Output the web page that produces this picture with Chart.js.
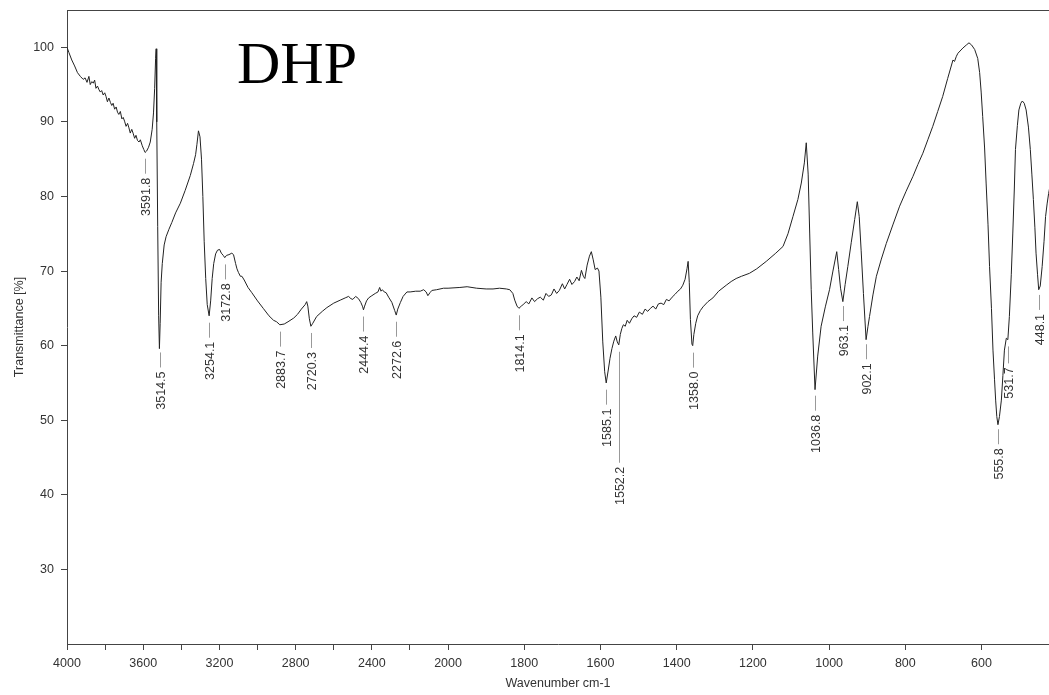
<!DOCTYPE html>
<html lang="en">

<head>
    <meta charset="UTF-8">
    <title>DHP IR spectrum</title>
    <script src="https://cdn.jsdelivr.net/npm/chart.js"></script>
    <style>
        html, body { margin: 0; padding: 0; background: #fff; }
        #wrap { width: 1049px; height: 695px; }
    </style>
</head>

<body>
    <div id="wrap">
        <canvas id="irChart" width="1049" height="695"></canvas>
    </div>

    <script>
        // spectrum: wavenumber (cm-1) and transmittance (%)
        const wavenumbers = [
            4000, 3990, 3975, 3960, 3945, 3930, 3915, 3905, 3895, 3885,
            3878, 3870, 3862, 3855, 3848, 3840, 3832, 3825, 3818, 3810,
            3802, 3795, 3788, 3780, 3772, 3765, 3758, 3750, 3742, 3735,
            3728, 3720, 3712, 3705, 3698, 3690, 3682, 3675, 3668, 3660,
            3652, 3645, 3638, 3630, 3622, 3615, 3605, 3597, 3590, 3582,
            3572, 3563, 3553, 3546, 3540, 3535, 3532, 3529, 3524, 3519,
            3515, 3511, 3506, 3500, 3490, 3480, 3465, 3450, 3430, 3405,
            3380, 3353, 3336, 3325, 3318, 3310, 3302, 3294, 3287, 3280,
            3272, 3264, 3254, 3246, 3238, 3230, 3220, 3210, 3199, 3190,
            3180, 3172, 3163, 3150, 3135, 3126, 3115, 3108, 3100, 3090,
            3082, 3070, 3050, 3030, 3000, 2970, 2940, 2916, 2900, 2883,
            2860, 2840, 2810, 2790, 2770, 2750, 2742, 2736, 2728, 2720,
            2710, 2690, 2660, 2636, 2600, 2566, 2540, 2522, 2510, 2500,
            2485, 2470, 2458, 2448, 2444, 2438, 2428, 2417, 2400, 2382,
            2368, 2359, 2352, 2345, 2335, 2325, 2312, 2295, 2280, 2272,
            2264, 2250, 2236, 2216, 2199, 2170, 2146, 2128, 2115, 2106,
            2095, 2085, 2060, 2024, 2000, 1969, 1950, 1925, 1900, 1882,
            1865, 1847, 1838, 1830, 1825, 1819, 1814, 1808, 1803, 1795,
            1788, 1780, 1773, 1765, 1758, 1750, 1743, 1736, 1729, 1722,
            1715, 1708, 1700, 1694, 1688, 1681, 1675, 1668, 1662, 1656,
            1650, 1645, 1641, 1635, 1629, 1624, 1619, 1614, 1608, 1604,
            1599, 1594, 1589, 1585, 1580, 1575, 1570, 1565, 1560, 1556,
            1552, 1548, 1544, 1540, 1535, 1530, 1524, 1518, 1512, 1505,
            1498, 1490, 1483, 1476, 1469, 1462, 1455, 1448, 1441, 1434,
            1427, 1420, 1412, 1404, 1397, 1390, 1384, 1378, 1373, 1370,
            1367, 1364, 1360, 1358, 1355, 1350, 1345, 1338, 1331, 1318,
            1305, 1290, 1270, 1257, 1244, 1230, 1209, 1190, 1165, 1140,
            1121, 1108, 1095, 1082, 1073, 1065, 1060, 1055, 1051, 1047,
            1043, 1037, 1030, 1021, 1010, 999, 990, 980, 975, 970,
            964, 958, 951, 942, 933, 926, 921, 916, 910, 903,
            898, 894, 885, 876, 863, 850, 832, 815, 798, 780,
            767, 754, 741, 728, 715, 702, 689, 675, 671, 666,
            662, 649, 640, 633, 626, 618, 610, 605, 601, 597,
            592, 588, 583, 579, 574, 570, 566, 563, 560, 557,
            553, 548, 544, 540, 535, 531, 527, 522, 518, 514,
            511, 506, 502, 497, 493, 488, 483, 477, 472, 468,
            464, 460, 457, 453, 450, 446, 441, 436, 432, 428,
            424, 420
        ];
        const transmittance = [
            100.0, 99.3, 98.3, 97.5, 96.6, 96.1, 95.7, 95.9, 95.3, 96.1,
            95.0, 95.4, 95.2, 95.6, 94.5, 94.8, 94.3, 94.0, 94.2, 93.6,
            93.9, 93.4, 92.7, 93.2, 92.6, 92.2, 92.5, 91.7, 92.0, 91.3,
            91.0, 91.4, 90.4, 90.6, 90.1, 89.4, 89.8, 89.2, 88.5, 89.0,
            88.4, 87.8, 88.2, 87.5, 87.3, 87.6, 86.8, 86.3, 85.9, 86.1,
            86.6, 87.3, 89.0, 91.2, 94.5, 98.5, 99.8, 90.0, 76.0, 64.0,
            59.6, 63.0, 68.5, 71.0, 73.5, 74.6, 75.6, 76.5, 77.8, 79.1,
            80.8, 82.8, 84.4, 85.6, 87.0, 88.8, 88.0, 85.0, 80.0, 74.0,
            69.0, 65.5, 64.0, 66.0, 69.0, 71.0, 72.3, 72.8, 72.9, 72.4,
            72.1, 71.8, 72.1, 72.2, 72.4, 72.2, 71.0, 70.3, 69.8, 69.3,
            69.3, 68.8, 67.8, 67.1, 66.0, 65.0, 64.0, 63.4, 63.2, 62.8,
            62.9, 63.2, 63.7, 64.2, 64.9, 65.5, 65.9, 65.3, 63.6, 62.6,
            63.0, 63.9, 64.6, 65.1, 65.7, 66.1, 66.4, 66.6, 66.3, 66.2,
            66.6, 66.3, 65.8, 65.2, 64.8, 65.3, 66.0, 66.4, 66.7, 67.0,
            67.2, 67.8, 67.3, 67.5, 67.2, 67.1, 66.5, 65.8, 64.7, 64.1,
            64.9, 65.8, 66.6, 67.2, 67.2, 67.3, 67.3, 67.5, 67.2, 66.7,
            67.1, 67.4, 67.5, 67.7, 67.7, 67.8, 67.9, 67.7, 67.6, 67.6,
            67.7, 67.6, 67.5, 67.0, 66.1, 65.3, 65.0, 65.3, 65.5, 65.9,
            65.6, 66.4, 65.9, 66.3, 66.5, 66.1, 67.0, 66.6, 66.8, 67.6,
            67.0, 67.4, 68.3, 67.6, 68.2, 68.9, 68.2, 68.6, 69.2, 68.7,
            70.1, 69.3, 69.0, 70.8, 72.0, 72.6, 71.5, 70.2, 70.4, 70.0,
            66.5, 60.5, 56.5, 55.0, 56.6, 58.3, 59.6, 60.6, 61.3, 60.5,
            60.1, 61.5, 62.3, 62.8, 62.6, 63.4, 63.0, 63.6, 64.0, 63.8,
            64.5, 64.2, 64.9, 64.6, 65.0, 65.3, 64.9, 65.6, 65.7, 65.5,
            66.2, 66.0, 66.5, 66.9, 67.3, 67.6, 68.1, 68.9, 70.3, 71.3,
            68.5, 63.5, 60.2, 60.0, 61.5, 63.0, 64.0, 64.7, 65.2, 65.9,
            66.4, 67.3, 68.1, 68.6, 69.0, 69.3, 69.7, 70.3, 71.3, 72.4,
            73.3, 75.0, 77.3, 79.6, 81.8, 84.5, 87.2, 83.0, 75.1, 67.5,
            61.7, 54.1, 58.6, 62.6, 65.2, 67.5, 70.0, 72.6, 70.2, 67.7,
            65.9, 68.2, 70.6, 73.8, 76.9, 79.3, 77.3, 72.8, 67.0, 60.8,
            62.6, 63.9, 66.8, 69.3, 71.6, 73.7, 76.3, 78.7, 80.7, 82.7,
            84.3, 85.8, 87.6, 89.4, 91.4, 93.4, 95.8, 98.3, 98.1, 98.8,
            99.2, 99.9, 100.3, 100.6, 100.3, 99.7, 98.5, 96.6, 94.0, 90.7,
            86.5, 81.8, 76.2, 70.6, 65.0, 59.4, 55.5, 52.7, 50.5, 49.4,
            50.5, 52.7, 56.0, 59.4, 61.0, 60.8, 63.9, 69.5, 75.1, 81.0,
            86.3, 89.5, 91.6, 92.5, 92.8, 92.5, 91.6, 89.3, 86.3, 83.0,
            79.6, 75.8, 72.4, 69.5, 67.5, 68.0, 70.6, 74.0, 77.3, 79.0,
            80.4, 81.5
        ];

        // picked peaks (cm-1)
        const peakWavenumbers = [3591.8, 3514.5, 3254.1, 3172.8, 2883.7, 2720.3, 2444.4, 2272.6,
            1814.1, 1585.1, 1552.2, 1358.0, 1036.8, 963.1, 902.1, 555.8, 531.7, 448.1];
        const peakLabels = peakWavenumbers.map(p => p.toFixed(1));

        // axis ticks
        const xTickValues = [4000, 3800, 3600, 3400, 3200, 3000, 2800, 2600, 2400, 2200, 2000,
            1800, 1600, 1400, 1200, 1000, 800, 600];
        const xTickLabels = ['4000', '3600', '3200', '2800', '2400', '2000',
            '1800', '1600', '1400', '1200', '1000', '800', '600'];
        const yTickValues = [30, 40, 50, 60, 70, 80, 90, 100];

        // layout only: extra lead-line length for labels pushed down (px)
        const labelDrop = { '1552.2': 96, '531.7': 2 };

        // x axis is compressed 2:1 above 2000 cm-1, so map wavenumber -> axis units
        function toAxis(wn) {
            return wn >= 2000 ? (4000 - wn) / 2 : 1000 + (2000 - wn);
        }
        function fromAxis(u) {
            return u <= 1000 ? 4000 - 2 * u : 2000 - (u - 1000);
        }
        // transmittance of the curve at a wavenumber (linear between read points)
        function valueAt(wn) {
            for (let i = 1; i < wavenumbers.length; i++) {
                if (wavenumbers[i] <= wn) {
                    const w0 = wavenumbers[i - 1], w1 = wavenumbers[i];
                    const t = (w0 - wn) / (w0 - w1);
                    return transmittance[i - 1] + t * (transmittance[i] - transmittance[i - 1]);
                }
            }
            return transmittance[transmittance.length - 1];
        }

        const points = wavenumbers.map((w, i) => ({ x: toAxis(w), y: transmittance[i] }));

        const sansFont = '"Liberation Sans", Arial, sans-serif';

        // peak markers, title and top frame line
        const decorations = {
            id: 'decorations',
            afterDatasetsDraw(chart) {
                const ctx = chart.ctx;
                const xs = chart.scales.x;
                const ys = chart.scales.y;
                const area = chart.chartArea;

                ctx.save();
                ctx.strokeStyle = '#444';
                ctx.lineWidth = 1;
                ctx.beginPath();
                ctx.moveTo(area.left, area.top + 0.5);
                ctx.lineTo(area.right, area.top + 0.5);
                ctx.stroke();

                ctx.font = '12.5px ' + sansFont;
                ctx.fillStyle = '#333';
                ctx.strokeStyle = '#999';
                peakWavenumbers.forEach((wn, i) => {
                    const px = Math.round(xs.getPixelForValue(toAxis(wn))) + 0.5;
                    const py = ys.getPixelForValue(valueAt(wn));
                    const y1 = py + 7;
                    const y2 = y1 + 15 + (labelDrop[peakLabels[i]] || 0);
                    ctx.beginPath();
                    ctx.moveTo(px, y1);
                    ctx.lineTo(px, y2);
                    ctx.stroke();

                    ctx.save();
                    ctx.translate(px + 1, y2 + 4);
                    ctx.rotate(-Math.PI / 2);
                    ctx.textAlign = 'right';
                    ctx.textBaseline = 'middle';
                    ctx.fillText(peakLabels[i], 0, 0);
                    ctx.restore();
                });

                ctx.font = '60px "Liberation Serif", "Times New Roman", serif';
                ctx.fillStyle = '#000';
                ctx.textAlign = 'left';
                ctx.textBaseline = 'alphabetic';
                ctx.fillText('DHP', 237, 83);
                ctx.restore();
            }
        };

        Chart.defaults.font.family = sansFont;
        Chart.defaults.font.size = 12.5;
        Chart.defaults.color = '#333';

        const ctx = document.getElementById('irChart').getContext('2d');
        new Chart(ctx, {
            type: 'line',
            data: {
                datasets: [{
                    label: 'DHP',
                    data: points,
                    borderColor: '#222',
                    borderWidth: 1,
                    pointRadius: 0,
                    tension: 0,
                    fill: false
                }]
            },
            options: {
                responsive: false,
                animation: false,
                devicePixelRatio: 1,
                parsing: false,
                layout: { padding: { top: 10, right: 0, bottom: 0, left: 0 } },
                plugins: {
                    legend: { display: false },
                    tooltip: { enabled: false }
                },
                scales: {
                    x: {
                        type: 'linear',
                        min: 0,
                        max: 2577,
                        afterBuildTicks: axis => {
                            axis.ticks = xTickValues.map(w => ({ value: toAxis(w) }));
                        },
                        afterFit: axis => {
                            axis.height = 51;
                            axis.paddingLeft = 0;
                            axis.paddingRight = 0;
                        },
                        ticks: {
                            autoSkip: false,
                            maxRotation: 0,
                            padding: 6,
                            callback: value => {
                                const lbl = String(Math.round(fromAxis(value)));
                                return xTickLabels.includes(lbl) ? lbl : '';
                            }
                        },
                        grid: { drawOnChartArea: false, tickLength: 6, color: '#444' },
                        border: { color: '#444' },
                        title: {
                            display: true,
                            text: 'Wavenumber cm-1',
                            padding: { top: 0, bottom: 4 }
                        }
                    },
                    y: {
                        min: 20,
                        max: 105,
                        afterBuildTicks: axis => {
                            axis.ticks = yTickValues.map(v => ({ value: v }));
                        },
                        afterFit: axis => {
                            axis.width = 67;
                            axis.paddingTop = 0;
                            axis.paddingBottom = 0;
                        },
                        ticks: { padding: 7 },
                        grid: { drawOnChartArea: false, tickLength: 6, color: '#444' },
                        border: { color: '#444' },
                        title: {
                            display: true,
                            text: 'Transmittance [%]',
                            padding: { top: 12, bottom: 0 }
                        }
                    }
                }
            },
            plugins: [decorations]
        });
    </script>
</body>

</html>
